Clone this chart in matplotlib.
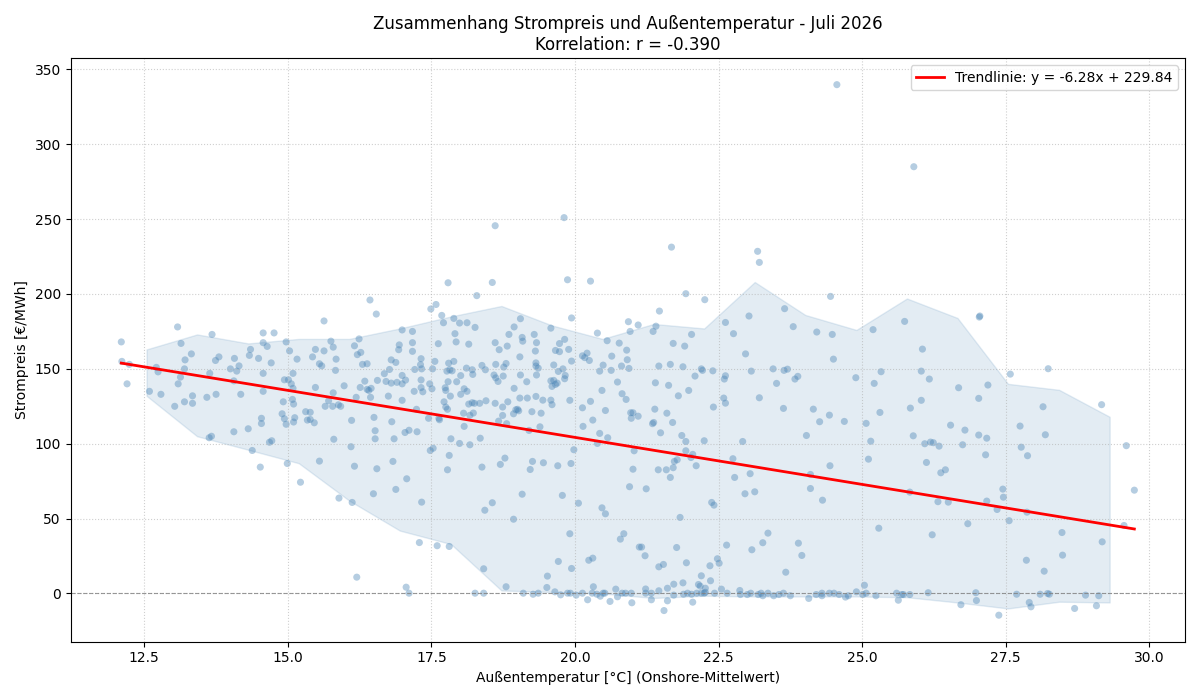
import matplotlib
matplotlib.use("Agg")
import matplotlib.pyplot as plt
import numpy as np

# Stundenwerte Juli 2026: Temperatur [°C], Strompreis [€/MWh]
temperatur = [
    12.1, 13.08, 12.11, 12.24, 12.2, 12.59, 12.79, 12.71, 12.74, 13.03, 13.09, 13.13, 13.2, 13.21, 13.14, 13.32,
    13.2, 13.34, 13.34, 13.68, 13.74, 13.8, 13.64, 13.59, 13.75, 13.63, 13.67, 14.06, 14.0, 14.07, 14.11, 14.15,
    14.06, 14.18, 14.31, 14.38, 14.33, 14.35, 14.49, 14.57, 14.76, 14.57, 14.64, 14.71, 14.57, 14.57, 14.54, 14.54,
    14.68, 14.72, 14.97, 15.03, 14.94, 15.01, 15.06, 15.09, 15.09, 15.16, 14.92, 15.08, 15.1, 14.9, 14.94, 14.97,
    15.1, 15.12, 15.31, 15.39, 15.34, 15.39, 15.46, 15.43, 15.48, 15.63, 15.55, 15.59, 15.48, 15.63, 15.75, 15.79,
    15.84, 15.83, 15.98, 15.79, 15.71, 15.78, 15.65, 15.88, 15.92, 16.16, 16.21, 16.24, 16.19, 16.11, 15.8, 16.1,
    14.52, 14.99, 15.22, 15.55, 16.16, 15.89, 16.12, 16.2,
    16.43, 16.54, 17.79, 18.56, 18.29, 19.87, 20.27, 17.49, 17.58, 17.68, 17.71, 17.89, 17.99, 18.12, 18.26, 17.91,
    17.93, 18.15, 17.62, 16.99, 17.17, 16.27, 16.3, 16.38, 16.94, 16.93, 17.17, 17.17, 17.32, 16.8, 16.88, 16.77,
    16.68, 16.34, 16.56, 16.71, 16.8, 16.9, 16.99, 16.99, 17.05, 17.21, 17.31, 17.33, 17.32, 17.2, 17.32, 17.35,
    17.47, 17.51, 17.56, 17.52, 16.26, 16.38, 16.41, 16.45, 16.44, 16.75, 16.99, 16.5, 16.52, 16.52, 16.81, 16.85,
    17.04, 17.11, 17.25, 17.24, 17.45, 17.63, 17.64, 17.48, 17.53, 17.74, 17.75, 17.77, 17.8, 17.82, 17.86, 17.89,
    17.79, 17.94, 18.01, 18.11, 18.07, 18.12, 18.01, 17.83, 17.72, 17.75, 17.78, 18.21, 18.22, 18.21, 18.25, 18.34,
    18.45, 18.15, 18.06, 18.17, 18.23, 18.07, 17.84, 17.99, 18.17, 18.35, 18.38, 18.44, 18.61, 18.68, 18.82, 18.85,
    18.94, 19.05, 19.08, 19.09, 19.29, 19.33, 19.31, 19.04, 18.62, 18.76, 18.8, 18.59, 18.62, 18.66, 18.75, 19.05,
    19.16, 19.32, 19.32, 19.36, 19.33, 18.94, 19.04, 19.17, 19.32, 19.44, 19.58, 19.6, 18.61, 18.74, 18.83, 18.93,
    18.97, 19.02, 19.0, 18.74, 18.67, 18.81, 19.25, 19.41, 19.39, 19.2, 19.58, 19.63, 19.66, 19.6, 19.69, 19.63,
    19.66, 19.73, 19.58, 19.94, 19.73, 19.82, 19.89, 19.71, 19.79, 19.83, 19.82, 19.94, 19.91, 20.13, 20.17, 20.21,
    20.25, 20.39, 20.56, 20.49, 20.43, 20.64, 20.63, 20.77, 20.81, 20.94, 20.9, 20.91, 20.93, 20.96, 21.1, 20.47,
    20.74, 20.82, 20.89, 20.53, 20.27, 20.13, 20.14, 20.31, 20.43, 20.57, 20.39, 20.97, 21.01, 20.98, 21.1, 19.98,
    16.55, 16.49, 16.83, 16.88, 17.07, 17.33, 17.29, 17.06, 17.11, 17.78, 17.81, 17.6, 17.81, 18.38, 18.43, 18.56,
    18.41, 18.26, 18.41, 18.7, 18.78, 18.8, 18.93, 19.08, 19.22, 19.26, 19.45, 19.1, 19.27, 19.36, 19.51, 19.52,
    19.65, 19.75, 19.71, 19.7, 19.78, 19.87, 19.92, 19.91, 19.94, 19.93, 20.06, 20.02, 20.13, 20.22, 20.24, 20.31,
    20.32, 20.3, 20.38, 20.44, 20.49, 20.52, 20.61, 20.71, 20.74, 20.47, 20.53, 20.79, 20.85, 20.95, 21.01, 21.03,
    20.82, 20.88, 20.98, 20.99, 21.12,
    21.24, 21.45, 21.59, 21.66, 21.71, 21.73, 21.78, 21.93, 21.93, 22.02, 22.05, 22.11, 22.25, 22.38, 22.42, 21.83,
    21.16, 21.22, 21.77, 21.46, 21.54, 21.94, 22.35, 22.48, 22.51, 22.64, 22.2, 22.36, 21.88, 21.72, 21.61, 22.15,
    22.18, 22.27, 21.23, 21.23, 21.33, 21.46, 21.72, 21.89, 21.96, 22.03, 22.12, 22.2, 22.25, 22.27, 22.43, 21.33,
    21.55, 21.61, 22.05, 22.55, 22.65, 22.87, 22.88, 23.0, 23.06, 23.19, 23.24, 23.27, 23.36, 23.46, 23.55, 23.63,
    23.75, 22.75, 22.78, 23.05, 22.96, 23.13, 23.08, 23.27, 23.36, 23.67, 23.89, 23.95, 24.1, 24.1, 24.31, 24.44,
    24.07, 24.2, 24.3, 24.3, 24.43, 24.51, 24.6, 24.71, 24.76, 24.9, 25.01, 25.07, 25.04, 25.24, 25.6, 25.63,
    25.69, 25.72, 25.83, 25.11, 25.29, 25.83,
    21.36, 21.41, 21.47, 21.93, 22.26, 21.71, 21.91, 22.03, 21.46, 21.66, 21.88, 22.2, 22.22, 22.4, 22.09, 21.4,
    21.63, 21.8, 21.98, 22.62, 22.76, 23.03, 23.18, 23.21, 22.97, 23.07, 22.62, 22.6, 22.59, 22.62, 22.41, 23.21,
    23.45, 23.64, 23.7, 23.51, 23.83, 23.88, 23.65, 23.8, 24.21, 24.45, 24.48, 24.5, 23.63, 24.15, 24.26, 24.43,
    24.69, 24.03, 24.89, 25.19, 25.74, 25.21, 25.33, 25.31, 25.07, 25.15, 25.84, 25.89, 21.35, 21.37, 21.39, 21.6,
    21.7, 21.49, 21.86, 22.92,
    27.04, 27.05, 26.05, 26.03, 26.17, 26.68, 27.19, 27.58, 28.24, 27.03, 26.03, 26.54, 26.79, 27.03, 27.17, 27.75,
    28.15, 28.19, 29.17, 26.09, 26.19, 26.24, 26.34, 26.75, 27.77, 29.6,
    27.15, 27.88, 26.12, 26.37, 26.45, 26.32, 26.5, 27.17, 27.35, 27.45, 27.46, 27.56, 27.87, 26.84, 26.22, 28.48,
    28.49, 29.18, 27.86, 28.17, 29.74, 29.56, 26.15, 26.98, 26.99, 26.72, 27.38, 27.69, 27.91, 27.94, 28.1, 28.23,
    28.26, 28.7, 28.89, 29.12, 29.08,
    18.61, 19.81, 21.68, 24.56, 25.9,
]
strompreis = [
    168, 178, 155, 153, 140, 135, 133, 151, 148, 125, 140, 144.5, 150, 156, 167, 160,
    128, 132, 127, 173, 155.6, 158, 147, 131, 133, 104, 105, 108, 150, 157, 148.5, 152,
    142, 133, 110, 95.5, 159, 163, 157, 174, 174, 167.5, 165, 154, 147, 135, 117, 113.5,
    101, 102, 168, 162, 142.7, 142.7, 140, 147, 137, 156.5, 128, 129.6, 126.5, 120, 116.7, 113,
    114.5, 117.4, 121.4, 121, 115.8, 116.2, 114, 158, 163, 182, 153.4, 152, 137.6, 162, 168.5, 164.5,
    156.5, 149, 138.7, 134, 128.7, 125, 125, 126, 125, 165.4, 159.5, 170, 131, 115.6, 103, 98,
    84.4, 86.8, 74.3, 88.4, 85, 63.7, 60.8, 10.9,
    196, 186.6, 207.5, 207.7, 198.9, 209.5, 208.6, 190, 193, 185.7, 180.8, 183.7, 180.6, 180.8, 177.7, 173.5,
    168, 166.5, 166.8, 176, 175, 161, 153, 153.4, 166, 162.8, 167.5, 161.7, 156.8, 156, 154.3, 149.6,
    146.8, 141.8, 142.3, 141.6, 140.5, 141, 140, 145.6, 142.5, 149.6, 152.8, 150, 142.6, 135, 137.5, 134.7,
    140, 136.7, 155, 150, 137.6, 136.3, 135.6, 137, 131, 131.8, 129, 117.6, 108.7, 103.3, 114.7, 103.3,
    107.5, 109, 108, 123, 117, 117, 116, 95.5, 97, 137.4, 135.6, 148.5, 153.8, 149.4, 148.7, 155,
    141.4, 141.4, 145.5, 150.5, 136.7, 135, 133, 131.8, 128, 124.5, 123, 149.4, 146.3, 127.4, 127, 127,
    128.7, 126.5, 120.4, 119, 120.5, 111.6, 103.3, 100.2, 99.3, 103.7, 152.3, 149.4, 167.5, 162.8, 165.2, 173,
    178, 183.5, 171, 168.5, 173, 167.5, 161.9, 158, 153, 151.2, 153.6, 145.9, 144, 141.6, 145.2, 145.9,
    141.4, 154, 151.9, 150.5, 145.9, 137, 130.5, 130.5, 131.6, 129.1, 129.1, 126.1, 127, 124.5, 128, 120,
    122.7, 122, 123, 118.9, 115.1, 113.4, 121.4, 120.4, 111.3, 108.9, 142, 142.3, 139.6, 138.3, 140.5, 152.6,
    162.3, 161.5, 177.2, 184, 166.9, 169.7, 163, 148.3, 150, 145.6, 143.4, 155.2, 129, 158.7, 157.5, 160.5,
    155.6, 173.9, 168.8, 152.5, 148.5, 158.5, 149, 167.2, 151.9, 150.3, 162.5, 156.1, 181.5, 175, 179.3, 135.6,
    141.2, 133.4, 129.6, 122.2, 128.3, 124, 111.6, 115.8, 106.9, 104, 100.2, 120.7, 120.7, 117, 118.4, 96,
    83.3, 66.6, 88.2, 69.5, 76.6, 61, 34, 4.2, 0.2, 82.6, 92.2, 31.9, 31.4, 84.4, 55.6, 60.6,
    16.5, 0.2, 0.2, 86.2, 90.4, 4.5, 49.6, 66.3, 82.8, 88.2, 87.3, 0.2, -0.5, 0.2, 4, 11.6,
    1.1, -0.9, 21.4, 85.3, 65.5, 0.2, 0.2, 39.9, 16.7, 86.8, 60.3, -1.1, 0.2, -4.2, 22.2, 23.6,
    4.5, 0.2, -0.5, -1.8, 0.2, 0.2, -5.3, 2.9, -2.2, 57.2, 53.2, 36.3, 39.9, 71.3, 83, 95.3,
    0.2, 0.2, 0.2, -6.2, 31,
    69.9, 82.6, 82.6, 77.5, 84, 88.2, 89.3, 95.3, 101.5, 90.8, 92.9, 85.3, 102, 60.8, 59, 50.8,
    31, 25.2, 30.7, 17.8, 19.4, 20.5, 18.5, 23.2, 20.2, 32.3, 11.8, 8.5, 7.1, 6.2, 3.5, 6,
    4.9, 3.5, 3, 0.2, 0.2, 1.8, -1.1, -0.5, 0.2, -0.5, 0.2, 0.2, 0.2, 0.8, 0.2, -4.2,
    -11.4, -4.9, -5.8, 2.9, 0.2, 2, -0.7, -0.7, 0.2, -0.7, 0.2, -1.5, 0.2, -1.5, -0.7, 0.2,
    -1.5, 90, 77.5, 80, 66.6, 67.9, 29.2, 33.9, 40.3, 14.2, 33.6, 25.4, 79.5, 70.1, 62.3, 85.3,
    -3.3, -0.7, 0.2, -1.5, 0.2, 0.2, -0.7, -2.4, -1.5, 1.1, -0.7, 0.2, 5.5, -1.5, 0.2, -4.5,
    -0.7, -0.7, -0.7, 89.7, 43.6, 67.7,
    175, 178.5, 188.6, 200.2, 196.2, 167, 165.2, 173, 151.9, 153, 151.4, 150, 149, 148.7, 145.2, 140.7,
    139, 132, 135.6, 181, 173.5, 185.3, 228.5, 221.1, 160, 148.5, 145.4, 143.2, 130.5, 127.1, 124.5, 130.7,
    150, 149, 149.8, 140.3, 143.2, 145, 190.2, 178.2, 174.6, 198.4, 173, 156.5, 123.6, 123.1, 114.7, 119.1,
    114.9, 105.5, 144.1, 176.2, 181.7, 140.3, 148.1, 120.9, 113.6, 101.7, 123.8, 105.3, 113.4, 114.2, 123.1, 120.4,
    114.2, 107.3, 105.5, 101.5,
    184.6, 185.3, 163.2, 148.5, 143.2, 137.4, 139.2, 146.5, 150.1, 130.3, 129, 112.4, 109.1, 105.8, 103.7, 111.8,
    124.7, 106, 126.1, 100, 101.1, 100.7, 98.4, 99.3, 97.7, 98.7,
    92.6, 92, 87.5, 80.6, 82.6, 61.3, 61, 61.7, 56.1, 69.7, 64.3, 48.6, 54.3, 46.6, 39.2, 40.7,
    25.6, 34.5, 22.2, 14.9, 69, 45.4, 0.5, 0.5, -4.7, -7.5, -14.5, -0.5, -6, -8.9, -0.5, 0,
    -0.5, -10, -1.1, -1.5, -8.2,
    245.6, 251, 231.3, 339.8, 285,
]

# Perzentilband je Temperaturklasse
band_temp = [12.54, 13.42, 14.31, 15.19, 16.07, 16.95, 17.84, 18.72, 19.6, 20.48,
             21.37, 22.25, 23.13, 24.01, 24.9, 25.78, 26.66, 27.54, 28.43, 29.31]
band_oben = [163, 173, 167, 170, 170, 177, 185, 192, 179, 170,
             180, 177, 208, 186, 176, 197, 184, 140, 136, 118]
band_unten = [132, 105, 96, 87, 62, 42, 33, 2, 1, 0,
              -3, -1.5, -2, -2, -2, -2.5, -6, -10, -5.5, -6]

steigung = -6.28
achse = 229.84
r_wert = -0.390

fig, ax = plt.subplots(figsize=(12, 7), dpi=100)

ax.fill_between(band_temp, band_unten, band_oben, color="steelblue", alpha=0.15,
                edgecolor="steelblue", linewidth=1)
ax.scatter(temperatur, strompreis, s=26, color="steelblue", alpha=0.4, edgecolors="none")

x_line = np.array([min(temperatur), max(temperatur)])
ax.plot(x_line, steigung * x_line + achse, color="red", linewidth=2,
        label=f"Trendlinie: y = {steigung:.2f}x + {achse:.2f}")

ax.axhline(0, color="gray", linestyle="--", linewidth=0.8, alpha=0.8)
ax.grid(True, linestyle=":", alpha=0.6)

ax.set_xlabel("Außentemperatur [°C] (Onshore-Mittelwert)")
ax.set_ylabel("Strompreis [€/MWh]")
ax.set_title(f"Zusammenhang Strompreis und Außentemperatur - Juli 2026\nKorrelation: r = {r_wert:.3f}",
             fontsize=12)
ax.legend(loc="upper right")

plt.tight_layout()
plt.savefig("out.png")
